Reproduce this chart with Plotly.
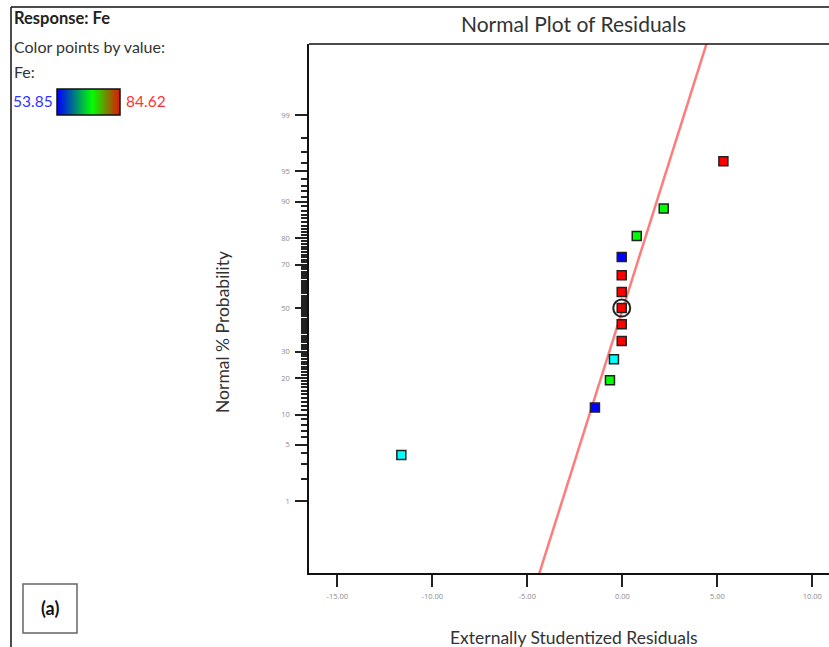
import numpy as np
import plotly.graph_objects as go
from statistics import NormalDist

# ---- data ----
residuals = [-11.63, -1.44, -0.65, -0.44, -0.03, -0.03, -0.03, -0.03, -0.03, -0.03, 0.76, 2.18, 5.32]
probability = [3.85, 11.54, 19.23, 26.92, 34.62, 42.31, 50.00, 57.69, 65.38, 73.08, 80.77, 88.46, 96.15]
point_colors = ["#00ffff", "#0000ff", "#00ff00", "#00ffff", "#ff0000", "#ff0000", "#ff0000",
                "#ff0000", "#ff0000", "#0000ff", "#00ff00", "#00ff00", "#ff0000"]
circled_index = 6  # multiple points at centre

line_center = 0.04   # residual where reference line crosses 50 %
line_scale = 1.38    # residual units per normal score

x_ticks = [-15, -10, -5, 0, 5, 10]
x_ticktext = ["-15.00", "-10.00", "-5.00", "0.00", "5.00", "10.00"]
y_major = [1, 5, 10, 20, 30, 50, 70, 80, 90, 95, 99]
y_minor = [p for p in range(1, 100) if p not in y_major]

fe_min, fe_max = 53.85, 84.62

W, H = 829, 647
nd = NormalDist()
z = lambda p: nd.inv_cdf(p / 100.0)

def px(xp):
    return xp / W

def py(yp):
    return 1 - yp / H

fig = go.Figure()

# reference line
zline = [-3.6, 3.6]
fig.add_trace(go.Scatter(
    x=[line_center + line_scale * v for v in zline], y=zline, mode="lines",
    line=dict(color="#ff7c7c", width=2.5), hoverinfo="skip", showlegend=False))

# points
fig.add_trace(go.Scatter(
    x=residuals, y=[z(p) for p in probability], mode="markers",
    marker=dict(symbol="square", size=9, color=point_colors,
                line=dict(color="#222222", width=1.5)),
    showlegend=False))

# circle marking multiple points
fig.add_trace(go.Scatter(
    x=[residuals[circled_index]], y=[z(probability[circled_index])], mode="markers",
    marker=dict(symbol="circle-open", size=17, color="#222222", line=dict(width=2)),
    showlegend=False, hoverinfo="skip"))

# gradient legend bar
ramp = np.linspace(fe_min, fe_max, 120)
fig.add_trace(go.Heatmap(
    z=[ramp], x=list(range(len(ramp))), y=[0], xaxis="x2", yaxis="y2",
    colorscale=[[0, "#0000ff"], [0.55, "#00ff00"], [1, "#e81000"]],
    showscale=False, zsmooth="best", hoverinfo="skip"))

tick_font = dict(family="Open Sans", size=7.5, color="#8a8a8a")

fig.update_layout(
    width=W, height=H, margin=dict(l=0, r=0, t=0, b=0),
    paper_bgcolor="white", plot_bgcolor="white",
    xaxis=dict(domain=[px(309), 1], range=[-(622.3 - 309) / 19.0, (829 - 622.3) / 19.0],
               tickvals=x_ticks, ticktext=x_ticktext, ticks="outside", ticklen=12,
               tickwidth=1.5, tickcolor="#222", tickfont=tick_font, ticklabelstandoff=3,
               showline=True, linecolor="#111", linewidth=1.5, mirror=False,
               showgrid=False, zeroline=False, automargin=False),
    yaxis=dict(domain=[py(573), py(44)], range=[-3.19, 3.18],
               tickvals=[z(p) for p in y_major], ticktext=[str(p) for p in y_major],
               ticks="outside", ticklen=12, tickwidth=1.5, tickcolor="#222",
               tickfont=tick_font, ticklabelstandoff=4,
               minor=dict(tickvals=[z(p) for p in y_minor], ticks="outside", ticklen=6,
                          tickwidth=1.5, tickcolor="#222", showgrid=False),
               showline=True, linecolor="#111", linewidth=1.5, mirror=False,
               showgrid=False, zeroline=False, automargin=False),
    xaxis2=dict(domain=[px(57), px(120)], range=[-0.5, len(ramp) - 1.5], visible=False,
                anchor="y2"),
    yaxis2=dict(domain=[py(115), py(89)], range=[-0.5, 0.5], visible=False, anchor="x2"),
)

shapes = [
    # plot box top border
    dict(type="line", xref="paper", yref="paper", x0=px(309), x1=1, y0=py(44), y1=py(44),
         line=dict(color="#111", width=1.5)),
    # outer frame
    dict(type="line", xref="paper", yref="paper", x0=px(11), x1=1, y0=py(7), y1=py(7),
         line=dict(color="#111", width=1.5)),
    dict(type="line", xref="paper", yref="paper", x0=px(11), x1=px(11), y0=0, y1=py(7),
         line=dict(color="#111", width=1.5)),
    # legend bar border
    dict(type="rect", xref="paper", yref="paper", x0=px(57), x1=px(120), y0=py(115), y1=py(89),
         line=dict(color="#111", width=1.5)),
    # (a) box
    dict(type="rect", xref="paper", yref="paper", x0=px(23), x1=px(77), y0=py(633), y1=py(584),
         line=dict(color="#666", width=1.5)),
]
fig.update_layout(shapes=shapes)

font = "Lato"
ann = [
    dict(text="<b>Response: Fe</b>", x=px(12), y=py(18), size=16.5, color="#222", xanchor="left"),
    dict(text="Color points by value:", x=px(12), y=py(46), size=16, color="#333", xanchor="left"),
    dict(text="Fe:", x=px(12), y=py(72), size=16, color="#333", xanchor="left"),
    dict(text=f"{fe_min:.2f}", x=px(11), y=py(101), size=15.5, color="#3333ff", xanchor="left"),
    dict(text=f"{fe_max:.2f}", x=px(124), y=py(101), size=15.5, color="#ff3333", xanchor="left"),
    dict(text="Normal Plot of Residuals", x=px(573), y=py(24), size=21, color="#333", xanchor="center"),
    dict(text="Externally Studentized Residuals", x=px(574), y=py(637), size=17.5, color="#333", xanchor="center"),
    dict(text="<b>(a)</b>", x=px(50), y=py(608), size=18, color="#111", xanchor="center"),
]
annotations = [dict(text=a["text"], x=a["x"], y=a["y"], xref="paper", yref="paper",
                    xanchor=a["xanchor"], yanchor="middle", showarrow=False,
                    font=dict(family=font, size=a["size"], color=a["color"])) for a in ann]
annotations.append(dict(text="Normal % Probability", x=px(222), y=py(332), xref="paper", yref="paper",
                        textangle=-90, showarrow=False, xanchor="center", yanchor="middle",
                        font=dict(family=font, size=17.5, color="#333")))
fig.update_layout(annotations=annotations)

fig.write_html("out.html")
